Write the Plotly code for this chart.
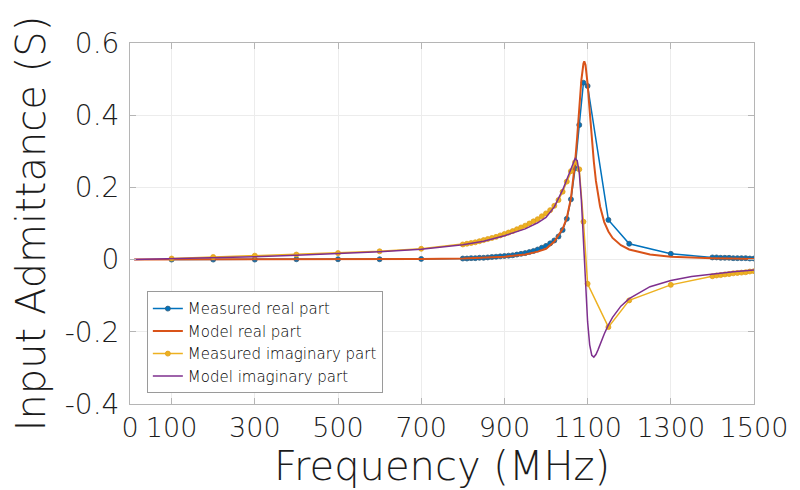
import plotly.graph_objects as go

# ---------------- data ----------------
meas_f = ([100, 200, 300, 400, 500, 600, 700]
          + [800, 810, 820, 830, 840, 850, 860, 870, 880, 890, 900, 910, 920, 930, 940, 950,
             960, 970, 980, 990, 1000, 1010, 1020, 1030, 1040, 1050, 1060, 1070, 1080, 1090, 1100]
          + [1150, 1200, 1300]
          + [1400, 1410, 1420, 1430, 1440, 1450, 1460, 1470, 1480, 1490, 1500])

meas_real = ([0.000, 0.000, 0.000, 0.001, 0.001, 0.001, 0.002]
             + [0.003, 0.003, 0.004, 0.004, 0.005, 0.005, 0.006, 0.007, 0.008, 0.009, 0.010, 0.011,
                0.012, 0.014, 0.016, 0.018, 0.021, 0.024, 0.028, 0.033, 0.038, 0.045, 0.053, 0.064,
                0.082, 0.113, 0.167, 0.253, 0.373, 0.490, 0.481]
             + [0.110, 0.044, 0.016]
             + [0.006, 0.006, 0.005, 0.005, 0.005, 0.004, 0.004, 0.004, 0.004, 0.003, 0.003])

meas_imag = ([0.003, 0.007, 0.011, 0.014, 0.018, 0.023, 0.030]
             + [0.042, 0.044, 0.046, 0.048, 0.051, 0.054, 0.057, 0.060, 0.063, 0.067, 0.071, 0.075,
                0.079, 0.084, 0.089, 0.094, 0.100, 0.106, 0.112, 0.120, 0.128, 0.137, 0.149, 0.165,
                0.188, 0.216, 0.245, 0.270, 0.250, 0.105, -0.067]
             + [-0.187, -0.113, -0.070]
             + [-0.046, -0.044, -0.043, -0.041, -0.040, -0.038, -0.037, -0.036, -0.035, -0.033, -0.032])

model_f = [10, 100, 200, 300, 400, 500, 600, 700, 800, 850, 900, 950, 980, 1000, 1020, 1040,
           1050, 1060, 1065, 1070, 1075, 1080, 1085, 1090, 1092, 1095, 1100, 1105, 1110, 1115,
           1120, 1125, 1130, 1140, 1150, 1160, 1180, 1200, 1250, 1300, 1350, 1400, 1450, 1500]

model_real = [0.000, 0.000, 0.000, 0.000, 0.000, 0.001, 0.001, 0.002, 0.003, 0.005, 0.008, 0.014,
              0.022, 0.030, 0.050, 0.085, 0.115, 0.170, 0.213, 0.270, 0.340, 0.420, 0.497, 0.543,
              0.549, 0.539, 0.487, 0.412, 0.336, 0.271, 0.218, 0.178, 0.147, 0.104, 0.078, 0.060,
              0.040, 0.028, 0.014, 0.008, 0.005, 0.004, 0.003, 0.002]

model_imag = [0.000, 0.002, 0.005, 0.008, 0.012, 0.016, 0.022, 0.029, 0.041, 0.051, 0.066, 0.085,
              0.102, 0.117, 0.146, 0.193, 0.222, 0.256, 0.271, 0.280, 0.274, 0.240, 0.165, 0.052,
              0.003, -0.070, -0.172, -0.236, -0.265, -0.270, -0.263, -0.250, -0.235, -0.206,
              -0.181, -0.160, -0.129, -0.108, -0.075, -0.058, -0.047, -0.040, -0.034, -0.029]

x_ticks = [0, 100, 300, 500, 700, 900, 1100, 1300, 1500]
y_ticks = [-0.4, -0.2, 0, 0.2, 0.4, 0.6]
y_tick_text = ["-0.4", "-0.2", "0", "0.2", "0.4", "0.6"]

names = ["Measured real part", "Model real part", "Measured imaginary part", "Model imaginary part"]
colors = ["#0072BD", "#D95319", "#EDB120", "#7E2F8E"]

# ---------------- figure ----------------
FONT = "DejaVu Sans"
W = 200
TXT = "#1c1c1c"
fig = go.Figure()
fig.add_trace(go.Scatter(x=meas_f, y=meas_real, name=names[0], mode="lines+markers",
                         line=dict(color=colors[0], width=1.5),
                         marker=dict(size=5, color=colors[0], line=dict(color="#3a5f7a", width=0.8))))
fig.add_trace(go.Scatter(x=model_f, y=model_real, name=names[1], mode="lines",
                         line=dict(color=colors[1], width=2)))
fig.add_trace(go.Scatter(x=meas_f, y=meas_imag, name=names[2], mode="lines+markers",
                         line=dict(color=colors[2], width=1.5),
                         marker=dict(size=5, color=colors[2], line=dict(color="#e0a020", width=0.8))))
fig.add_trace(go.Scatter(x=model_f, y=model_imag, name=names[3], mode="lines",
                         line=dict(color=colors[3], width=1.5)))

fig.update_layout(
    width=800, height=490,
    margin=dict(l=130, r=40, t=43, b=86),
    paper_bgcolor="white", plot_bgcolor="white",
    font=dict(family=FONT, color=TXT, weight=W),
    legend=dict(x=0.027, y=0.312, xanchor="left", yanchor="top",
                bgcolor="white", bordercolor="#9a9a9a", borderwidth=1,
                font=dict(size=15, family=FONT, color="#000000", weight=W),
                itemwidth=30, tracegroupgap=0),
    showlegend=True,
)
fig.update_xaxes(range=[0, 1500], tickmode="array", tickvals=x_ticks,
                 ticktext=[str(v) for v in x_ticks],
                 tickfont=dict(size=27, family=FONT, color=TXT, weight=W),
                 showgrid=True, gridcolor="#ececec", gridwidth=1,
                 zeroline=False, showline=True, linecolor="#b5b5b5", linewidth=1, mirror="ticks",
                 ticks="inside", ticklen=6, tickcolor="#b5b5b5",
                 title=dict(text="Frequency (MHz)", font=dict(size=40, family=FONT, color=TXT, weight=W),
                            standoff=0))
fig.update_yaxes(range=[-0.4, 0.6], tickmode="array", tickvals=y_ticks, ticktext=y_tick_text,
                 tickfont=dict(size=28, family=FONT, color=TXT, weight=W),
                 ticklabelstandoff=4,
                 showgrid=True, gridcolor="#ececec", gridwidth=1,
                 zeroline=False, showline=True, linecolor="#b5b5b5", linewidth=1, mirror="ticks",
                 ticks="inside", ticklen=6, tickcolor="#b5b5b5",
                 title=dict(text="Input Admittance (S)", font=dict(size=40, family=FONT, color=TXT, weight=W),
                            standoff=6))

fig.write_html("out.html")
